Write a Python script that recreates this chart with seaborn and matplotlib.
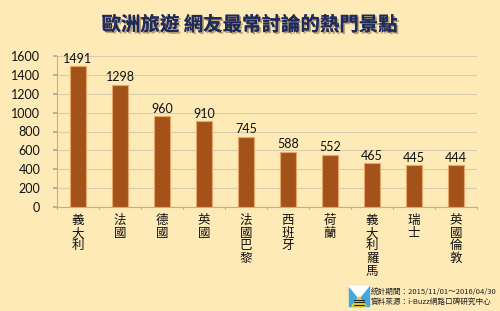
import matplotlib
matplotlib.use("Agg")
import matplotlib.pyplot as plt
import matplotlib.patheffects as pe
import matplotlib.patches as mpatches
import seaborn as sns
import pandas as pd
import numpy as np

categories = ["義大利", "法國", "德國", "英國", "法國巴黎", "西班牙", "荷蘭", "義大利羅馬", "瑞士", "英國倫敦"]
values = [1491, 1298, 960, 910, 745, 588, 552, 465, 445, 444]
yticks = [0, 200, 400, 600, 800, 1000, 1200, 1400, 1600]
title = "歐洲旅遊 網友最常討論的熱門景點"
footer1 = "統計期間：2015/11/01～2016/04/30"
footer2 = "資料來源：i-Buzz網路口碑研究中心"

sns.set_theme(style="white")
plt.rcParams['font.family'] = ['Noto Sans CJK TC', 'DejaVu Sans']

bg = "#FDEAB6"
bar_color = "#A3521A"
df = pd.DataFrame({"cat": categories, "val": values})

fig = plt.figure(figsize=(5, 3.11), dpi=100, facecolor=bg)
ax = fig.add_axes([57/500, 1 - 207/311, 420/500, 151/311])
ax.set_facecolor(bg)

sns.barplot(data=df, x="cat", y="val", color=bar_color, width=0.4, ax=ax,
            edgecolor="#E7A66A", linewidth=0.8, saturation=1, zorder=3)

ax.set_ylim(0, 1600)
ax.set_xlim(-0.5, len(categories) - 0.5)
ax.set_yticks(yticks)
ax.set_yticklabels([str(v) for v in yticks], fontsize=9, color="#111111",
                   family=['Lato', 'DejaVu Sans'])
ax.yaxis.grid(True, color="#D8CDB0", linewidth=0.8, zorder=0)
ax.tick_params(axis="y", length=3, color="#B0A890", pad=9, left=True)
ax.set_xticks([])
ax.set_xlabel("")
ax.set_ylabel("")
for side in ["top", "right"]:
    ax.spines[side].set_visible(False)
for side in ["left", "bottom"]:
    ax.spines[side].set_color("#B8B0A0")
    ax.spines[side].set_linewidth(0.8)

# boundary ticks on x axis
for b in np.arange(-0.5, len(categories) + 0.5, 1):
    ax.plot([b, b], [0, -25], color="#B8B0A0", lw=0.8, clip_on=False)

for i, (c, v) in enumerate(zip(categories, values)):
    ax.text(i, v + 15, str(v), ha="center", va="bottom", fontsize=9, color="#111111",
            family=['Lato', 'DejaVu Sans'])
    ax.text(i, -0.045, "\n".join(c), transform=ax.get_xaxis_transform(),
            ha="center", va="top", fontsize=9, color="#111111", linespacing=0.98,
            fontweight="medium")

fig.text(0.5, 1 - 25/311, title, ha="center", va="center", fontsize=14,
         fontweight="bold", color="#1E2A5E",
         path_effects=[pe.withSimplePatchShadow(offset=(1.3, -1.3), shadow_rgbFace="#A89060", alpha=0.8), pe.Normal()])

fig.text(371/500, 1 - 292/311, footer1, ha="left", va="center", fontsize=5.5, color="#222222")
fig.text(371/500, 1 - 302/311, footer2, ha="left", va="center", fontsize=5.5, color="#222222")

# simple logo
lx, ly, lw, lh = 349/500, 1 - 306/311, 20/500, 20/311
fig.patches.append(mpatches.Rectangle((lx, ly), lw, lh, transform=fig.transFigure, color="#3FA9E0", zorder=5))
fig.patches.append(mpatches.Polygon([(lx, ly + lh), (lx + lw, ly + lh), (lx + lw/2, ly + lh*0.4)],
                                    transform=fig.transFigure, color="white", zorder=6))
fig.patches.append(mpatches.Polygon([(lx + lw*0.15, ly), (lx + lw*0.85, ly), (lx + lw/2, ly + lh*0.45)],
                                    transform=fig.transFigure, color="#F2D21A", zorder=6))
for k in range(3):
    yy = ly + lh * (0.06 + 0.12 * k)
    fig.add_artist(plt.Line2D([lx + lw*0.25, lx + lw*0.75], [yy, yy], transform=fig.transFigure,
                              color="#222222", lw=0.8, zorder=7))

fig.savefig("out.png", dpi=100, facecolor=bg)
